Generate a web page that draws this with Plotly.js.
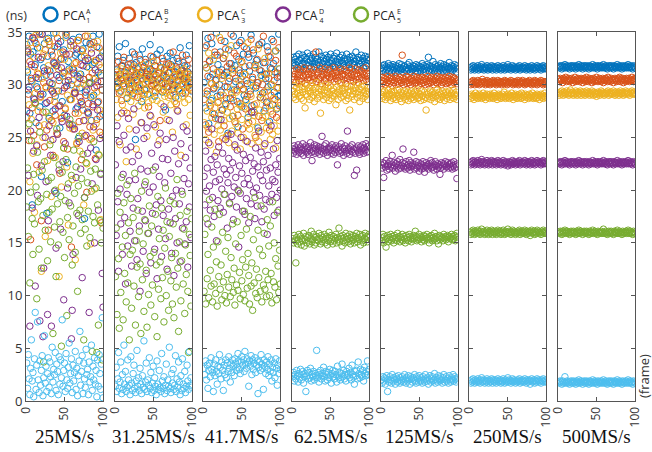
<!DOCTYPE html>
<html>
<head>
<meta charset="utf-8">
<script src="https://cdn.plot.ly/plotly-3.0.1.min.js"></script>
<style>html,body{margin:0;padding:0;background:#fff}#chart{width:652px;height:452px}</style>
</head>
<body>
<div id="chart"></div>
<script>
// ---------- categories / labels ----------
const panelLabels = ['25MS/s', '31.25MS/s', '41.7MS/s', '62.5MS/s', '125MS/s', '250MS/s', '500MS/s'];
const legendNames = ['A', 'B', 'C', 'D', 'E'];   // superscripts of PCA
const legendSubs  = ['1', '2', '3', '4', '5'];   // subscripts of PCA
const seriesColors = ['#0072BD', '#D95319', '#EDB120', '#7E2F8E', '#77AC30', '#4DBEEE'];
const xTicks = [0, 50, 100];
const yTicks = [0, 5, 10, 15, 20, 25, 30, 35];

// ---------- 25MS/s ----------
const blue25 = [33.8,31.2,29.5,34.6,27.3,32.9,30.4,18.6,33.1,28.7,34.2,31.9,26.4,29.8,33.5,30.6,35.0,27.9,32.4,21.3,34.8,29.1,31.6,33.9,28.2,30.9,17.8,32.7,34.4,26.8,31.3,29.6,33.2,30.1,27.5,34.9,32.0,28.9,19.7,31.8,33.6,29.4,30.7,25.9,34.1,32.5,28.4,31.1,33.3,27.1,30.3,34.7,29.9,22.6,32.2,31.5,28.6,33.7,30.0,26.2,34.3,31.4,29.2,32.8,27.7,33.0,30.8,24.9,34.5,29.7,31.0,32.6,28.1,33.4,30.5,17.3,29.3,34.0,31.7,27.4,32.3,30.2,33.9,28.8,26.6,31.9,34.6,29.0,32.1,30.6,23.8,33.6,28.3,31.2,34.8,27.0,30.9,32.7,29.5,33.1];
const orange25 = [26.9,33.4,29.1,24.7,32.2,15.3,30.6,27.8,34.5,25.2,31.7,28.3,33.9,22.4,29.6,31.0,26.1,34.8,28.9,17.1,32.6,27.4,30.2,24.1,33.3,29.8,25.7,31.4,16.2,34.1,28.5,30.9,26.6,32.8,23.3,29.2,33.6,27.1,31.8,25.4,34.4,28.0,30.4,21.6,32.4,26.8,29.4,33.1,24.6,31.2,27.7,34.9,29.9,23.9,30.8,26.3,32.9,28.6,14.6,31.5,25.8,33.7,29.3,27.3,32.1,24.4,30.1,34.2,26.5,28.8,31.9,22.9,33.2,27.6,30.5,25.1,34.6,29.0,19.8,32.5,28.2,30.7,26.0,33.8,24.9,31.1,27.9,34.0,29.7,23.0,32.3,26.7,30.3,28.4,33.5,25.5,31.6,16.9,29.5,27.2];
const yellow25 = [31.4,25.6,33.2,28.1,20.8,34.0,26.7,30.3,23.5,32.6,17.9,29.2,34.7,24.3,31.1,27.5,21.7,33.5,28.8,12.3,30.6,25.0,32.9,26.2,15.6,29.7,34.3,22.8,31.8,27.0,33.8,24.7,19.4,30.0,26.4,32.2,28.4,23.1,34.9,29.4,25.3,31.5,11.8,28.0,33.0,20.3,26.9,30.8,24.0,32.4,27.8,34.5,22.2,29.0,16.7,31.3,25.9,33.7,28.6,21.0,30.4,26.1,32.0,13.4,29.6,24.5,34.2,27.3,31.0,23.7,28.3,33.3,25.4,30.1,18.6,32.7,26.6,29.9,22.5,34.6,27.2,31.6,24.8,14.9,33.4,28.9,25.7,30.5,20.1,32.3,26.3,29.3,34.1,23.4,31.9,27.6,17.2,30.9,25.2,33.1];
const purple25 = [27.5,33.1,21.4,29.8,7.1,25.6,31.9,18.3,34.4,23.7,28.6,10.9,30.7,24.2,19.5,32.6,26.9,7.6,29.1,22.3,34.8,6.1,12.6,31.3,25.0,20.8,28.3,8.2,17.1,26.1,30.2,23.3,7.1,29.4,24.8,32.1,19.9,27.7,14.5,30.9,25.3,33.9,21.9,28.0,16.3,31.6,26.5,22.7,9.6,29.7,24.4,32.9,27.0,20.2,30.4,18.8,26.2,34.1,5.9,8.6,13.9,31.1,25.8,29.2,21.2,33.4,27.9,17.6,24.6,30.6,22.0,28.4,11.7,31.8,26.6,19.3,32.3,25.2,29.5,23.5,27.3,8.4,30.1,24.0,33.0,20.6,28.1,26.0,15.0,31.4,22.9,29.9,27.6,18.1,32.5,24.9,21.5,30.3,12.1,8.9];
const green25 = [18.4,22.1,15.6,26.3,11.2,19.8,24.7,17.3,13.9,21.5,16.8,28.2,20.3,9.7,23.6,18.9,14.4,25.5,19.2,12.6,21.9,17.6,3.7,22.7,16.2,27.4,19.6,13.3,20.9,17.9,24.3,15.1,21.2,18.2,6.4,23.1,16.5,20.0,11.8,25.8,18.7,14.8,22.4,17.0,19.4,5.2,21.7,16.0,24.0,13.6,19.0,22.9,8.1,17.4,20.6,15.3,26.7,18.5,21.4,12.9,16.6,23.8,19.7,14.1,22.2,17.8,10.4,20.4,25.1,18.1,15.9,21.1,17.2,23.4,5.8,19.3,16.3,22.6,14.7,20.7,18.0,30.2,15.5,21.8,19.9,4.7,17.5,24.6,16.9,22.0,20.2,4.6,18.6,7.2,23.3,17.1,21.6,15.0,3.9,16.4];
const cyan25 = [3.6,1.2,4.4,2.1,0.6,3.1,5.8,1.9,2.7,0.4,4.0,8.4,1.1,3.4,7.5,2.0,0.8,3.8,1.5,2.9,4.3,0.5,2.2,6.2,1.7,3.3,0.9,2.6,4.1,1.3,3.7,2.3,0.7,5.1,1.8,3.0,2.5,4.6,1.0,3.5,2.8,0.6,4.2,1.6,3.9,2.2,7.7,1.4,2.9,3.6,0.9,4.5,2.0,1.2,3.2,5.5,1.7,2.6,4.0,0.8,3.4,1.9,2.7,4.7,1.1,3.1,0.5,2.4,3.8,6.6,1.5,2.8,4.3,0.7,3.6,2.1,1.3,4.9,2.5,3.0,0.6,3.7,1.8,2.3,5.3,1.0,3.3,2.0,4.1,1.6,2.9,0.4,3.9,1.4,4.4,2.6,1.1,3.5,7.9,0.3];

// ---------- 31.25MS/s ----------
const blue31 = [30.6,31.4,29.8,32.7,30.2,33.6,31.0,29.4,31.8,30.5,32.3,29.9,31.2,33.9,30.8,28.7,31.6,30.1,32.5,29.6,31.3,30.4,33.1,29.2,31.9,30.7,24.8,32.1,30.3,31.5,29.7,32.8,30.9,31.1,28.4,33.4,30.0,31.7,29.5,32.4,30.6,31.3,29.1,32.0,30.8,33.8,31.4,29.9,30.5,32.6,31.0,28.9,31.8,30.2,32.9,29.7,31.2,30.4,33.3,31.6,30.1,29.3,32.2,30.9,31.5,27.6,30.7,32.7,29.8,31.1,30.3,33.0,31.9,29.5,30.6,32.3,31.3,30.0,28.8,31.7,32.5,30.4,29.6,31.0,33.5,30.8,31.4,29.2,32.1,30.5,31.8,30.2,32.8,29.9,31.2,30.6,33.7,31.5,30.1,29.4];
const orange31 = [30.9,29.7,31.5,30.3,32.2,29.2,31.0,30.6,28.5,31.8,30.1,32.6,29.9,30.8,31.3,27.3,30.4,31.9,29.5,30.7,32.0,30.2,29.0,31.4,30.9,32.9,29.8,31.1,30.5,28.8,31.7,30.0,32.4,29.4,31.2,30.6,31.6,29.1,30.8,32.1,29.6,31.0,30.3,27.9,31.5,30.7,32.7,29.9,30.4,31.3,30.0,31.8,29.3,30.9,32.3,30.5,29.7,31.1,26.6,31.6,30.2,32.5,30.8,29.5,31.4,30.1,31.9,29.8,30.6,32.0,31.2,29.0,30.4,31.7,30.0,33.1,29.6,31.0,30.7,28.2,31.5,30.3,32.2,29.4,30.9,31.3,30.1,32.8,29.9,30.6,31.1,29.2,30.5,31.8,30.2,32.4,29.7,31.0,30.8,29.5];
const yellow31 = [30.1,28.6,31.2,26.9,29.7,30.8,24.3,29.3,31.5,28.1,30.4,27.5,29.9,31.0,22.7,28.8,30.6,29.2,25.8,31.3,28.4,30.0,29.6,27.2,31.7,28.9,30.3,23.9,29.4,30.9,28.0,31.1,29.8,26.4,30.5,28.7,31.9,29.1,27.8,30.2,29.5,25.1,30.7,28.3,31.4,29.0,27.0,30.1,28.6,32.2,29.3,30.8,26.0,29.9,28.5,31.2,29.6,24.7,30.4,28.2,31.6,29.4,27.4,30.0,28.9,31.0,29.2,26.7,30.6,28.8,29.7,31.8,28.1,30.3,25.5,29.1,30.9,28.4,31.4,29.8,27.6,30.2,28.7,31.1,29.5,23.3,30.7,28.9,29.9,31.5,28.3,30.5,26.2,29.4,31.0,28.6,30.1,27.1,29.6,30.8];
const purple31 = [22.4,15.7,26.1,18.9,12.3,24.6,20.1,16.8,27.3,13.9,21.5,25.2,17.4,11.1,23.8,19.6,14.7,26.8,20.9,16.1,24.1,12.8,22.7,18.3,27.7,15.2,21.0,25.7,13.4,19.2,23.3,16.6,10.4,22.0,26.4,18.0,14.2,24.9,20.5,17.1,12.1,25.9,21.8,15.9,19.8,27.1,13.1,23.5,17.8,20.3,26.2,14.4,22.2,18.6,11.6,24.3,16.3,21.3,25.4,19.0,13.7,23.0,17.6,27.9,20.7,15.4,24.8,12.5,22.9,18.2,26.6,16.9,21.6,14.0,19.4,25.0,11.9,23.7,17.3,20.0,15.0,27.5,22.5,18.7,13.2,24.4,19.9,16.4,26.0,21.1,14.9,23.1,17.0,25.6,12.7,20.6,18.4,22.1,15.5,24.0];
const green31 = [11.8,16.4,8.2,19.7,13.5,6.9,17.9,10.3,21.2,14.6,7.7,18.8,12.1,15.7,9.4,20.5,11.2,16.9,5.8,13.9,19.2,8.8,14.3,17.4,10.9,21.6,7.2,15.2,12.7,18.1,9.9,16.1,13.0,6.4,19.9,11.5,14.9,8.5,17.2,20.8,12.4,7.0,15.9,10.1,18.5,13.7,9.1,16.6,11.0,21.9,14.1,8.0,17.7,12.9,6.1,19.4,10.6,15.4,13.2,9.7,18.3,11.7,16.2,7.5,14.5,20.2,10.0,17.0,12.3,8.6,15.6,19.0,11.4,13.6,9.2,16.8,7.9,18.7,14.0,10.8,21.0,12.6,6.6,15.1,17.6,9.5,13.3,19.6,11.1,16.3,8.3,14.8,12.0,18.0,10.4,4.6,15.8,13.8,9.0,17.3];
const cyan31 = [1.4,3.2,0.9,2.1,4.6,1.2,1.8,3.7,0.7,2.5,1.1,5.3,1.6,2.8,0.9,1.3,3.9,2.0,1.5,0.6,4.2,1.7,1.0,2.6,3.4,1.2,0.8,1.9,4.8,1.4,2.2,1.0,3.1,1.6,0.7,2.4,1.3,5.7,1.1,1.8,3.6,0.9,2.0,1.5,4.1,1.2,2.7,0.8,1.7,3.3,1.0,2.2,1.4,0.6,3.8,1.6,1.1,2.9,1.3,0.9,4.5,1.9,1.2,2.3,0.7,1.5,3.5,1.0,2.0,1.4,5.1,1.2,0.8,2.6,1.7,3.0,1.1,1.5,4.3,0.9,2.1,1.3,3.7,1.8,0.6,2.4,1.0,4.0,1.6,1.2,2.8,0.8,1.4,3.4,1.9,1.1,4.7,1.5,2.2,1.3];

// ---------- 41.7MS/s ----------
const blue41 = [30.2,33.5,27.8,31.6,29.1,34.4,26.3,32.2,30.7,28.5,33.9,31.0,29.6,27.2,32.8,30.4,34.9,28.9,31.9,26.7,30.0,33.1,29.3,31.4,27.6,32.5,30.9,34.1,28.2,31.2,29.8,25.4,33.3,30.6,28.7,32.0,31.5,27.0,34.6,29.5,31.8,30.3,33.7,28.4,26.0,32.4,29.9,31.1,34.2,27.9,30.8,32.9,29.0,31.7,28.6,33.4,30.1,26.9,32.6,31.3,29.4,34.7,28.0,30.5,33.0,27.4,31.9,29.7,32.3,30.2,25.9,33.8,31.4,28.8,30.9,34.0,29.2,32.1,27.5,31.0,30.6,28.3,33.6,29.8,32.7,26.5,31.6,30.0,34.3,28.1,32.0,29.3,31.2,33.2,27.7,30.7,28.9,34.8,31.5,29.0];
const orange41 = [28.6,31.9,26.2,33.7,29.4,30.8,25.5,32.3,28.0,34.5,30.1,27.3,31.5,29.7,33.1,26.8,30.5,32.8,28.3,24.6,31.2,29.0,34.2,27.6,30.9,32.5,26.1,29.8,33.4,28.7,31.7,25.2,30.3,32.0,27.9,34.8,29.2,31.1,28.5,33.0,26.5,30.6,32.7,29.5,27.1,31.4,34.0,28.2,30.0,32.2,25.8,29.6,33.6,31.0,27.7,30.4,28.9,32.9,26.4,31.8,29.1,34.3,27.4,30.7,33.3,28.1,31.6,25.0,29.9,32.4,30.2,27.0,33.8,28.8,31.3,26.6,30.0,34.6,29.3,32.1,27.8,31.0,28.4,33.2,30.6,25.7,32.6,29.0,31.5,27.2,34.1,30.4,28.6,32.3,26.9,31.1,29.7,33.5,28.0,30.8];
const yellow41 = [26.4,29.2,24.8,31.6,27.5,25.9,33.0,28.3,24.3,30.1,26.9,28.7,32.4,25.3,27.8,29.9,23.6,31.2,26.1,28.4,34.5,25.7,27.2,30.6,24.9,29.0,26.6,32.8,28.0,25.1,27.4,30.9,24.5,26.8,29.6,33.7,25.6,28.8,27.0,31.4,24.1,26.3,29.3,27.7,25.4,30.4,28.1,23.9,32.1,26.7,29.5,25.0,27.9,31.0,24.7,28.5,26.2,34.0,27.3,25.8,30.2,28.9,24.4,26.5,29.8,27.1,25.2,31.8,28.2,26.0,33.4,24.6,27.6,29.1,25.5,30.7,26.9,28.6,24.2,32.5,27.0,25.9,29.4,26.4,31.1,28.0,24.8,27.5,30.0,25.3,28.7,26.1,33.2,24.0,29.7,27.8,25.6,31.5,26.6,28.3];
const purple41 = [21.3,18.6,23.7,19.9,22.1,16.8,24.5,20.4,18.1,22.9,25.8,19.3,21.7,17.5,23.2,20.8,15.2,22.4,19.0,24.1,21.0,18.3,26.7,20.1,23.5,17.9,22.0,19.6,24.8,21.5,16.4,20.7,23.0,18.8,21.9,25.3,19.4,22.6,17.2,20.3,24.3,21.2,18.4,23.8,20.0,14.6,22.3,19.7,25.0,21.6,18.0,23.4,20.6,17.7,22.8,19.2,24.6,21.1,16.9,20.5,23.1,18.7,27.4,21.8,19.8,22.5,17.3,24.0,20.2,18.5,22.2,25.6,19.5,21.4,23.6,17.0,20.9,22.7,18.2,24.4,19.1,21.9,15.8,23.3,20.4,18.9,22.1,26.1,19.6,21.0,23.9,17.6,20.8,22.4,19.3,24.7,21.7,18.1,23.0,20.0];
const green41 = [10.4,15.8,9.2,17.3,11.6,13.9,9.8,19.1,12.4,10.9,16.5,9.4,14.6,11.1,18.2,10.2,13.2,9.0,15.1,11.8,17.7,10.6,12.9,9.6,16.0,11.3,19.6,10.0,14.2,9.3,12.0,15.5,10.8,18.7,9.9,13.6,11.5,16.8,10.3,12.6,9.1,14.9,11.0,17.0,10.5,19.9,12.2,9.7,15.7,11.4,13.4,10.1,18.0,9.5,12.7,16.3,10.7,14.0,11.9,9.2,17.5,10.9,13.1,8.6,15.3,11.2,19.3,10.2,12.5,9.8,16.2,11.7,14.4,10.4,18.5,9.4,13.8,11.0,15.9,10.6,12.3,9.9,17.2,11.5,14.7,10.0,16.6,12.1,9.3,18.9,11.3,15.0,10.8,13.5,9.6,17.9,12.8,10.3,14.3,11.1];
const cyan41 = [3.1,2.5,3.8,2.0,3.4,1.2,2.9,3.6,2.3,4.1,3.0,2.7,0.9,3.5,2.4,3.9,2.8,1.6,3.3,2.6,4.4,3.2,2.1,3.7,2.9,1.0,3.4,2.5,3.9,2.2,3.6,2.8,4.2,3.1,1.8,3.5,2.7,3.9,3.3,2.4,4.0,3.6,2.9,3.2,4.5,3.8,3.0,2.6,3.7,4.2,3.4,3.9,2.8,4.7,3.5,3.1,4.0,3.6,1.4,3.8,3.3,4.3,2.5,3.9,3.0,3.6,4.1,2.7,3.4,3.8,0.7,3.2,3.7,2.9,4.4,3.5,3.1,1.1,3.9,3.3,2.6,3.7,3.0,4.2,2.4,3.5,2.8,3.9,1.9,3.2,2.7,3.6,2.2,4.0,3.1,1.5,3.4,2.6,3.8,3.0];

// ---------- 62.5MS/s ----------
const blue62 = [32.1,32.6,31.8,32.4,31.9,32.7,32.2,31.6,32.9,32.3,31.7,32.5,32.0,32.8,31.5,32.2,32.6,31.9,32.4,33.0,32.1,31.8,32.7,32.3,31.6,32.5,32.0,32.9,31.7,32.2,32.6,31.9,32.4,32.1,33.1,31.8,32.3,32.7,31.5,32.0,32.5,32.2,31.7,32.8,32.4,31.9,32.6,32.1,31.6,32.9,32.3,32.0,31.8,32.5,32.7,31.7,32.2,33.0,32.4,31.9,32.1,32.6,31.6,32.3,32.8,32.0,31.8,32.5,32.2,31.7,32.9,32.4,32.1,31.9,32.6,32.3,31.5,32.7,32.0,32.5,31.8,32.2,33.1,32.4,31.7,32.6,32.0,32.3,31.9,32.8,32.1,32.5,31.6,32.2,32.7,31.8,32.4,32.0,32.6,32.3];
const orange62 = [30.8,31.3,30.5,31.0,30.2,31.5,30.7,31.1,30.4,30.9,31.4,30.6,30.3,31.2,30.8,31.6,30.1,30.9,31.3,30.5,31.0,30.7,31.5,30.4,31.1,30.2,30.8,31.4,30.6,31.0,33.1,30.3,30.9,31.2,30.5,31.6,30.7,30.1,31.3,30.8,31.0,30.4,31.5,30.6,31.1,30.9,30.2,31.4,30.7,31.2,30.5,31.0,30.8,31.6,30.3,31.1,30.6,31.3,30.9,30.4,31.2,30.7,31.5,30.2,30.8,31.0,30.5,31.4,30.9,30.1,31.3,30.6,31.1,30.8,31.6,30.4,31.0,30.7,31.2,30.3,30.9,31.5,30.5,31.1,30.8,30.2,31.4,30.6,31.0,31.3,30.7,31.2,30.4,30.9,31.6,30.5,31.1,30.8,30.3,31.0];
const yellow62 = [29.4,28.8,29.9,29.1,28.6,29.7,29.2,30.1,28.9,29.5,29.0,28.7,29.8,29.3,28.5,29.6,27.8,29.1,30.0,28.9,29.4,29.7,28.6,29.2,29.9,28.8,29.5,29.0,28.4,29.7,29.3,30.2,28.7,29.1,29.6,28.9,27.3,29.4,29.8,29.0,28.6,29.5,29.2,30.0,28.8,29.3,29.7,28.5,29.1,29.9,28.7,29.4,29.0,29.6,28.9,29.2,28.1,29.8,29.3,28.6,29.5,29.1,30.1,28.8,29.4,29.7,28.9,29.2,29.6,28.5,29.0,29.8,28.7,29.3,27.6,29.5,29.9,28.9,29.1,29.4,28.6,29.7,29.2,30.0,28.8,29.3,29.6,28.4,29.0,29.8,29.5,28.7,29.2,29.9,28.9,29.4,29.1,28.6,29.7,29.3];
const purple62 = [23.9,23.5,24.2,23.7,24.0,23.4,23.8,24.3,23.6,23.9,24.1,23.5,23.8,24.4,23.3,24.0,23.7,24.2,23.6,23.9,23.4,24.1,23.8,24.5,23.6,22.8,24.0,23.7,24.3,23.5,23.9,24.2,23.6,23.8,24.1,23.4,24.0,23.7,25.1,23.9,23.5,24.2,23.8,24.4,23.6,23.3,24.0,23.7,24.1,23.9,23.5,24.3,23.8,23.4,24.0,23.6,24.2,23.9,22.4,23.7,24.1,23.5,23.8,24.4,23.6,24.0,23.3,23.9,24.2,23.7,23.5,25.6,24.0,23.8,23.4,24.1,23.7,24.3,23.6,23.9,21.4,23.5,24.0,21.9,23.8,24.2,23.6,23.4,24.1,23.7,23.9,24.3,23.5,24.0,23.8,24.4,23.6,24.1,23.7,24.2];
const green62 = [15.4,15.0,15.7,15.2,13.1,15.5,14.9,15.3,15.8,15.1,15.6,14.8,15.4,15.2,15.9,14.7,15.3,15.6,15.0,15.5,15.2,15.7,14.9,15.4,16.1,15.1,15.3,15.8,14.8,15.5,15.0,15.6,15.3,15.2,15.9,15.4,14.9,15.7,15.1,15.5,15.3,15.8,15.0,15.4,15.6,14.8,15.2,16.0,15.5,15.1,15.7,15.3,14.9,15.6,15.2,15.4,15.8,15.0,15.5,15.3,16.4,15.1,15.6,15.4,14.7,15.7,15.2,15.5,15.0,15.9,15.3,15.6,15.1,15.4,15.8,14.9,15.5,15.2,15.7,15.3,15.0,15.6,15.4,15.9,15.1,15.5,15.3,15.8,14.8,15.6,15.2,15.7,15.0,15.4,15.9,15.3,15.6,15.1,15.5,15.8];
const cyan62 = [2.3,2.7,1.9,2.5,2.1,2.9,2.4,1.8,2.6,2.2,3.0,2.0,2.5,2.8,1.7,2.3,2.6,0.9,2.4,2.9,2.1,2.7,2.2,3.1,1.9,2.5,2.3,2.8,2.0,2.6,2.4,4.8,2.2,2.7,1.8,2.5,2.9,2.1,2.4,2.6,3.2,2.3,1.9,2.8,2.5,2.0,2.7,2.2,3.0,2.4,1.7,2.6,2.9,2.3,2.1,2.8,2.5,1.8,3.3,2.4,2.2,2.7,2.0,2.6,3.5,2.3,2.9,2.1,2.5,1.9,2.8,2.4,2.6,3.1,2.2,2.7,2.0,3.4,2.5,2.3,1.6,2.8,2.4,2.9,2.1,3.7,2.6,2.2,3.0,2.5,2.3,2.9,1.9,3.2,2.6,2.4,2.8,3.8,2.5,3.0];

// ---------- 125MS/s ----------
const blue125 = [31.6,31.3,31.8,31.5,31.9,31.2,31.7,31.4,31.6,32.0,31.3,31.8,31.5,31.1,31.7,31.9,31.4,31.6,31.2,31.8,31.5,31.7,31.3,32.0,31.6,31.4,31.9,31.5,31.2,31.7,31.8,31.4,31.6,31.3,31.9,31.5,32.1,31.7,31.2,31.6,31.4,31.8,31.5,31.7,31.3,31.9,31.6,31.2,31.8,31.5,31.7,31.3,31.6,32.0,31.4,31.8,31.5,31.2,31.7,31.9,31.6,32.6,31.3,31.8,31.5,31.7,31.4,32.2,31.6,31.3,31.9,31.5,31.7,31.2,31.8,31.4,31.6,32.0,31.5,31.7,31.3,31.9,31.6,31.4,31.8,31.2,31.7,31.5,32.1,31.6,31.4,31.8,31.3,31.7,31.5,31.9,31.6,31.2,31.8,31.5];
const orange125 = [30.4,30.1,30.7,30.3,30.6,30.0,30.5,30.2,30.8,30.4,30.1,30.6,30.3,30.7,29.9,30.5,30.2,30.4,30.8,30.0,30.6,30.3,30.5,30.1,30.7,30.4,30.2,32.8,30.6,30.0,30.5,30.3,30.8,30.1,30.4,30.7,30.2,30.5,30.0,30.6,30.3,30.4,30.8,30.1,30.5,30.2,30.7,30.4,29.9,30.6,30.3,30.5,30.1,30.7,30.4,30.2,30.6,30.0,30.5,30.3,30.8,30.1,30.4,30.6,30.2,30.7,30.3,30.5,30.0,30.4,30.6,30.2,30.8,30.1,30.5,30.3,30.7,30.4,30.0,30.6,30.2,30.5,30.3,30.7,30.1,30.4,30.6,30.2,30.8,30.3,30.5,30.0,30.4,30.7,30.2,30.6,30.3,30.5,30.1,30.4];
const yellow125 = [29.1,28.7,29.3,28.9,29.4,28.6,29.0,29.2,28.8,29.5,28.9,29.1,28.5,29.3,29.0,28.7,29.4,28.8,29.2,28.6,29.0,29.5,28.9,29.1,28.7,29.3,28.4,29.0,29.2,28.8,29.4,28.6,29.1,28.9,29.3,28.5,29.0,29.2,28.7,29.4,28.8,29.1,28.6,29.3,28.9,29.0,29.5,28.7,29.2,28.8,29.1,28.5,29.4,28.9,29.0,28.6,29.3,28.8,27.6,29.1,28.7,29.2,28.9,29.4,28.6,29.0,29.3,28.8,29.1,28.4,29.2,28.9,29.5,28.7,29.0,29.3,28.6,29.1,28.8,29.4,28.9,29.2,28.5,29.0,29.3,28.7,29.1,28.9,29.4,28.6,29.0,29.2,28.8,29.5,28.7,29.1,28.9,29.3,28.6,29.0];
const purple125 = [22.4,22.1,22.6,21.2,22.5,22.2,22.8,21.9,22.3,22.5,22.0,22.7,22.2,22.4,23.3,22.1,22.6,22.3,21.8,22.5,22.2,22.7,22.0,22.4,22.9,22.1,22.3,22.6,23.9,22.2,22.5,22.0,22.7,22.3,22.1,22.4,22.8,21.9,22.6,22.2,22.3,22.5,23.6,22.0,22.4,22.7,22.1,22.3,22.6,21.8,22.2,22.5,22.0,22.4,22.7,22.1,21.7,22.3,22.6,22.2,22.4,22.0,22.5,22.3,22.8,22.1,22.6,22.2,21.9,22.4,22.7,22.3,22.0,22.5,22.2,22.4,21.5,22.1,22.6,22.3,22.5,22.0,22.4,22.7,22.2,22.3,22.6,22.1,22.4,22.5,22.2,22.6,22.0,22.3,22.7,22.1,22.4,22.2,21.1,22.5];
const green125 = [15.5,15.2,15.8,15.0,15.6,15.3,14.6,15.4,15.7,15.1,15.5,15.3,15.8,15.2,15.6,15.4,15.0,15.7,15.3,15.5,15.2,15.9,15.4,15.6,15.1,15.5,15.3,15.8,15.2,15.6,15.4,15.0,15.7,15.3,15.5,15.2,15.8,15.6,15.4,15.1,15.5,15.3,15.7,15.4,16.1,15.6,15.2,15.5,15.3,15.8,15.4,15.6,15.1,15.5,15.3,15.7,15.2,15.6,15.4,15.8,15.5,15.3,15.0,15.6,15.4,15.7,15.2,15.5,15.3,15.9,15.4,15.6,15.2,15.5,14.9,15.7,15.3,15.6,15.4,15.5,15.2,15.8,15.4,15.6,15.3,15.5,15.7,15.1,15.6,15.4,15.5,15.8,15.3,15.6,15.4,15.7,15.2,15.5,15.9,15.6];
const cyan125 = [2.0,1.7,2.3,1.9,2.2,1.6,2.1,2.4,0.9,2.0,1.8,2.3,2.0,1.7,2.5,1.9,2.2,2.0,1.6,2.3,2.1,1.8,2.4,2.0,1.7,2.2,1.9,2.3,2.0,1.8,2.5,2.1,1.7,2.2,1.9,2.4,2.0,1.6,2.3,2.1,1.8,2.2,2.0,2.5,1.9,1.7,2.3,2.1,1.8,2.4,2.0,1.9,2.2,1.7,2.3,2.0,1.8,2.5,2.1,1.9,2.2,1.6,2.0,2.4,1.8,2.1,2.3,1.9,2.0,2.6,1.7,2.2,2.0,1.8,2.4,2.1,1.9,2.3,2.0,1.7,2.2,2.5,1.8,2.0,2.3,1.9,2.1,1.7,2.4,2.0,1.8,2.2,2.0,2.5,1.9,2.3,2.1,1.8,2.2,2.0];

// ---------- 250MS/s ----------
const blue250 = [31.6,31.4,31.7,31.5,31.8,31.6,31.4,31.7,31.5,31.6,31.8,31.4,31.6,31.5,31.7,31.9,31.5,31.6,31.4,31.7,31.6,31.5,31.8,31.4,31.6,31.7,31.5,31.6,31.8,31.4,31.7,31.6,31.5,31.7,31.4,31.6,31.8,31.5,31.6,31.7,31.4,31.6,31.5,31.8,31.6,31.4,31.7,31.5,31.6,31.9,31.5,31.7,31.6,31.4,31.6,31.8,31.5,31.7,31.6,31.4,31.6,31.5,31.7,31.6,31.8,31.4,31.6,31.5,31.7,31.6,31.5,31.8,31.6,31.4,31.7,31.5,31.6,31.7,31.4,31.6,31.8,31.5,31.6,31.7,31.4,31.6,31.5,31.8,31.6,31.7,31.5,31.6,31.4,31.7,31.6,31.8,31.5,31.6,31.7,31.5];
const orange250 = [30.2,30.0,30.3,30.1,30.4,30.2,30.0,30.3,30.2,30.1,30.4,30.2,30.0,30.3,30.1,30.2,30.5,30.1,30.3,30.2,30.0,30.2,30.4,30.1,30.3,30.2,30.0,30.2,30.3,30.1,30.4,30.2,30.1,30.3,30.0,30.2,30.4,30.2,30.1,30.3,30.2,30.0,30.3,30.2,30.1,30.4,30.2,30.3,30.0,30.2,30.1,30.3,30.2,30.4,30.1,30.2,30.0,30.3,30.2,30.1,30.3,30.2,30.4,30.0,30.2,30.1,30.3,30.2,30.4,30.1,30.2,30.0,30.3,30.2,30.1,30.3,30.2,30.4,30.1,30.2,30.0,30.3,30.2,30.1,30.4,30.2,30.3,30.0,30.2,30.1,30.3,30.2,30.4,30.1,30.2,30.0,30.3,30.2,30.1,30.3];
const yellow250 = [28.9,28.7,29.1,28.8,29.0,28.6,28.9,29.2,28.8,29.0,28.7,28.9,29.1,28.8,29.0,28.7,28.9,29.2,28.8,29.0,28.6,28.9,29.1,28.8,29.0,28.7,29.1,28.9,28.8,29.0,28.7,29.2,28.9,28.8,29.0,28.6,28.9,29.1,28.8,29.0,28.7,28.9,29.1,28.8,29.3,28.9,28.7,29.0,28.8,29.1,28.9,28.7,29.0,28.8,29.2,28.9,28.6,29.0,28.8,29.1,28.9,28.7,29.0,28.8,29.1,28.9,28.7,29.2,28.8,29.0,28.9,28.6,29.1,28.8,29.0,28.9,28.7,29.1,28.8,29.0,28.9,29.2,28.7,28.8,29.0,28.9,28.7,29.1,28.8,29.0,28.6,28.9,29.1,28.8,29.0,28.7,28.9,29.2,28.8,29.0];
const purple250 = [22.6,22.4,22.7,22.5,22.8,22.6,22.4,22.7,22.5,22.6,22.8,22.5,22.6,22.4,22.7,22.9,22.5,22.6,22.7,22.4,22.6,22.5,22.8,22.6,22.4,22.7,22.5,22.6,22.8,22.4,22.7,22.6,22.5,22.7,22.4,22.6,22.8,22.5,22.6,22.7,22.4,22.6,22.5,22.8,22.6,22.4,22.7,22.5,22.6,22.3,22.5,22.7,22.6,22.4,22.6,22.8,22.5,22.7,22.6,22.4,22.6,22.5,22.7,22.6,22.8,22.4,22.6,22.5,22.7,22.6,22.5,22.8,22.6,22.4,22.7,22.5,22.6,22.7,22.4,22.6,22.8,22.5,22.6,22.7,22.4,22.6,22.5,22.8,22.6,22.7,22.5,22.6,22.4,22.7,22.6,22.8,22.5,22.6,22.7,22.5];
const green250 = [16.0,15.8,16.1,15.9,16.2,16.0,15.8,16.1,15.9,16.0,16.2,15.9,16.0,15.8,16.1,16.3,15.9,16.0,16.1,15.8,16.0,15.9,16.2,16.0,15.8,16.1,15.9,16.0,16.2,15.8,16.1,16.0,15.9,16.1,15.8,16.0,16.2,15.9,16.0,16.1,15.8,16.0,15.9,16.2,16.0,15.8,16.1,15.9,16.0,16.3,15.9,16.1,16.0,15.8,16.0,16.2,15.9,16.1,16.0,15.8,16.0,15.9,16.1,16.0,16.2,15.8,16.0,15.9,16.1,16.0,15.9,16.2,16.0,15.8,16.1,15.9,16.0,16.1,15.7,16.0,16.2,15.9,16.0,16.1,15.8,16.0,15.9,16.2,16.0,16.1,15.9,16.0,15.8,16.1,16.0,16.2,15.9,16.0,16.1,15.9];
const cyan250 = [1.9,1.7,2.0,1.8,2.1,1.9,1.7,2.0,1.8,1.9,2.1,1.8,1.9,1.7,2.0,2.2,1.8,1.9,2.0,1.7,1.9,1.8,2.1,1.9,1.7,2.0,1.8,1.9,2.1,1.7,2.0,1.9,1.8,2.0,1.7,1.9,2.1,1.8,1.9,2.0,1.7,1.9,1.8,2.1,1.9,1.7,2.0,1.8,1.9,2.2,1.8,2.0,1.9,1.7,1.9,2.1,1.8,2.0,1.9,1.7,1.9,1.8,2.0,1.9,2.1,1.7,1.9,1.8,2.0,1.9,1.8,2.1,1.9,1.7,2.0,1.8,1.9,2.0,1.6,1.9,2.1,1.8,1.9,2.0,1.7,1.9,1.8,2.1,1.9,2.0,1.8,1.9,1.7,2.0,1.9,2.1,1.8,1.9,2.0,1.8];

// ---------- 500MS/s ----------
const blue500 = [31.7,31.6,31.8,31.7,31.5,31.8,31.6,31.7,31.9,31.6,31.7,31.8,31.6,31.7,31.5,31.7,31.8,31.6,31.7,31.8,31.6,31.7,31.5,31.8,31.7,31.6,31.9,31.7,31.6,31.8,31.7,31.5,31.7,31.8,31.6,31.7,31.8,31.6,31.7,31.5,31.8,31.7,31.6,31.7,31.9,31.6,31.7,31.8,31.6,31.7,31.5,31.8,31.7,31.6,31.7,31.8,31.6,31.7,31.9,31.6,31.7,31.8,31.6,31.5,31.7,31.8,31.6,31.7,31.8,31.6,31.7,31.5,31.8,31.7,31.6,31.7,31.9,31.6,31.7,31.8,31.6,31.7,31.5,31.8,31.7,31.6,31.7,31.8,31.6,31.7,31.9,31.6,31.7,31.8,31.6,31.7,31.5,31.8,31.7,31.6];
const orange500 = [30.5,30.3,30.6,30.4,30.5,30.2,30.6,30.4,30.5,30.7,30.3,30.5,30.4,30.6,30.3,30.5,30.4,30.6,30.2,30.5,30.4,30.7,30.3,30.5,30.4,30.6,30.5,30.3,30.4,30.6,30.5,30.2,30.4,30.6,30.5,30.3,30.7,30.4,30.5,30.3,30.6,30.4,30.5,30.2,30.4,30.6,30.3,30.5,30.4,30.7,30.5,30.3,30.4,30.6,30.5,30.3,30.4,30.6,30.2,30.5,30.4,30.6,30.5,30.3,30.7,30.4,30.5,30.3,30.6,30.4,30.5,30.2,30.4,30.6,30.5,30.3,30.4,30.6,30.5,30.7,30.3,30.5,30.4,30.6,30.2,30.5,30.4,30.3,30.6,30.5,30.4,30.6,30.3,30.5,30.4,30.7,30.5,30.3,30.4,30.6];
const yellow500 = [29.2,29.0,29.3,29.1,29.4,29.2,29.0,29.3,29.1,29.2,29.4,29.1,29.2,29.0,29.3,29.5,29.1,29.2,29.3,29.0,29.2,29.1,29.4,29.2,29.0,29.3,29.1,29.2,29.4,29.0,29.3,29.2,29.1,29.3,29.0,29.2,29.4,29.1,29.2,29.3,29.0,29.2,29.1,29.4,29.2,29.0,29.3,29.1,29.2,28.9,29.1,29.3,29.2,29.0,29.2,29.4,29.1,29.3,29.2,29.0,29.2,29.1,29.3,29.2,29.4,29.0,29.2,29.1,29.3,29.2,29.1,29.4,29.2,29.0,29.3,29.1,29.2,29.3,29.0,29.2,29.4,29.1,29.2,29.3,29.0,29.2,29.1,29.4,29.2,29.3,29.1,29.2,29.0,29.3,29.2,29.4,29.1,29.2,29.3,29.1];
const purple500 = [22.6,22.5,22.7,22.6,22.4,22.7,22.5,22.6,22.8,22.5,22.6,22.7,22.5,22.6,22.4,22.6,22.7,22.5,22.6,22.7,22.5,22.6,22.4,22.7,22.6,22.5,22.8,22.6,22.5,22.7,22.6,22.4,22.6,22.7,22.5,22.6,22.7,22.5,22.6,22.4,22.7,22.6,22.5,22.6,22.8,22.5,22.6,22.7,22.5,22.6,22.4,22.7,22.6,22.5,22.6,22.7,22.5,22.6,22.8,22.5,22.6,22.7,22.5,22.4,22.6,22.7,22.5,22.6,22.7,22.5,22.6,22.4,22.7,22.6,22.5,22.6,22.8,22.5,22.6,22.7,22.5,22.6,22.4,22.7,22.6,22.5,22.6,22.7,22.5,22.6,22.8,22.5,22.6,22.7,22.5,22.6,22.4,22.7,22.6,22.5];
const green500 = [16.0,15.9,16.1,16.0,15.8,16.1,15.9,16.0,16.2,15.9,16.0,16.1,15.9,16.0,15.8,16.0,16.1,15.9,16.0,16.1,15.9,16.0,15.8,16.1,16.0,15.9,16.2,16.0,15.9,16.1,16.0,15.8,16.0,16.1,15.9,16.0,16.1,15.9,16.0,15.8,16.1,16.0,15.9,16.0,16.2,15.9,16.0,16.1,15.9,16.0,15.8,16.1,16.0,15.9,16.0,16.1,15.9,16.0,16.3,15.9,16.0,16.1,15.9,15.8,16.0,16.1,15.9,16.0,16.1,15.9,16.0,15.8,16.1,16.0,15.9,16.0,16.2,15.9,16.0,16.1,15.9,16.0,15.8,16.1,16.0,15.9,16.0,16.1,15.9,16.0,16.2,15.9,16.0,16.1,15.9,16.0,15.8,16.1,16.0,15.9];
const cyan500 = [1.8,1.7,1.9,1.8,1.6,1.9,1.7,1.8,2.3,1.7,1.8,1.9,1.7,1.8,1.6,1.8,1.9,1.7,1.8,1.9,1.7,1.8,1.6,1.9,1.8,1.7,2.0,1.8,1.7,1.9,1.8,1.6,1.8,1.9,1.7,1.8,1.9,1.7,1.8,1.6,1.9,1.8,1.7,1.8,2.0,1.7,1.8,1.9,1.7,1.8,1.6,1.9,1.8,1.7,1.8,1.9,1.7,1.8,2.0,1.7,1.8,1.9,1.7,1.6,1.8,1.9,1.7,1.8,1.9,1.7,1.8,1.6,1.9,1.8,1.7,1.8,2.0,1.7,1.8,1.9,1.7,1.8,1.6,1.9,1.8,1.7,1.8,1.9,1.7,1.8,2.0,1.7,1.8,1.9,1.7,1.8,1.6,1.9,1.8,1.7];

const panelData = [
  [blue25, orange25, yellow25, purple25, green25, cyan25],
  [blue31, orange31, yellow31, purple31, green31, cyan31],
  [blue41, orange41, yellow41, purple41, green41, cyan41],
  [blue62, orange62, yellow62, purple62, green62, cyan62],
  [blue125, orange125, yellow125, purple125, green125, cyan125],
  [blue250, orange250, yellow250, purple250, green250, cyan250],
  [blue500, orange500, yellow500, purple500, green500, cyan500]
];

// ---------- build figure ----------
const W = 652, H = 452;
const M = {l: 26, r: 17, t: 32, b: 51};
const plotW = W - M.l - M.r, plotH = H - M.t - M.b;
const panelW = 77 / plotW;
const panelStep = 88.667 / plotW;
const px2x = p => (p - M.l) / plotW;
const py2y = p => (H - M.b - p) / plotH;

const traces = [];
const layout = {
  width: W, height: H,
  margin: M,
  paper_bgcolor: '#ffffff', plot_bgcolor: '#ffffff',
  showlegend: false,
  hovermode: false,
  font: {family: 'Open Sans, sans-serif', color: '#262626'},
  annotations: [], shapes: []
};

panelData.forEach((series, i) => {
  const sfx = i === 0 ? '' : String(i + 1);
  const frames = series[0].map((_, k) => k + 1);
  series.forEach((vals, j) => {
    traces.push({
      type: 'scatter', mode: 'markers',
      x: frames, y: vals,
      xaxis: 'x' + sfx, yaxis: 'y' + sfx,
      marker: {symbol: 'circle-open', size: 6.5, color: seriesColors[j], line: {width: 1, color: seriesColors[j]}},
      hoverinfo: 'skip'
    });
  });
  const d0 = i * panelStep;
  layout['xaxis' + sfx] = {
    domain: [d0, d0 + panelW], range: [0, 100], anchor: 'y' + sfx,
    tickvals: xTicks, ticktext: xTicks.map(String), tickangle: -90,
    ticks: 'inside', ticklen: 4, tickcolor: '#555', mirror: 'ticks',
    showline: true, linecolor: '#555', linewidth: 1,
    showgrid: false, zeroline: false,
    tickfont: {size: 12, color: '#333', family: 'Open Sans, sans-serif'}
  };
  layout['yaxis' + sfx] = {
    domain: [0, 1], range: [0, 35], anchor: 'x' + sfx,
    tickvals: yTicks, ticks: 'inside', ticklen: 4, tickcolor: '#555', mirror: 'ticks',
    showline: true, linecolor: '#555', linewidth: 1,
    showgrid: false, zeroline: false, showticklabels: i === 0,
    tickfont: {size: 13, color: '#333', family: 'Open Sans, sans-serif'}
  };
  layout.annotations.push({
    xref: 'paper', yref: 'paper', x: d0 + panelW / 2, y: py2y(436),
    xanchor: 'center', yanchor: 'middle', showarrow: false,
    text: panelLabels[i],
    font: {family: 'Liberation Serif, Times New Roman, serif', size: 19, color: '#111'}
  });
});

// axis unit labels
layout.annotations.push({
  xref: 'paper', yref: 'paper', x: px2x(16), y: py2y(16), xanchor: 'center', yanchor: 'middle',
  showarrow: false, text: '(ns)', font: {size: 12.5, color: '#333'}, borderpad: 0
});
layout.annotations.push({
  xref: 'paper', yref: 'paper', x: px2x(644), y: py2y(376), xanchor: 'center', yanchor: 'middle',
  showarrow: false, text: '(frame)', textangle: -90, font: {size: 13, color: '#333'}
});

// legend (circle + PCA with stacked superscript / subscript)
const legendX = [50.5, 128, 205, 283, 361];
const legendY = 14.5;
legendNames.forEach((nm, j) => {
  const cx = legendX[j];
  layout.shapes.push({
    type: 'circle', xref: 'paper', yref: 'paper',
    xsizemode: 'pixel', ysizemode: 'pixel',
    xanchor: px2x(cx), yanchor: py2y(legendY),
    x0: -7, x1: 7, y0: -7, y1: 7,
    line: {color: seriesColors[j], width: 2.5}
  });
  layout.annotations.push({
    xref: 'paper', yref: 'paper', x: px2x(cx + 11), y: py2y(legendY + 0.5),
    xanchor: 'left', yanchor: 'middle', showarrow: false, borderpad: 0,
    text: 'PCA', font: {size: 12, color: '#222'}
  });
  layout.annotations.push({
    xref: 'paper', yref: 'paper', x: px2x(cx + 34.5), y: py2y(15.5),
    xanchor: 'left', yanchor: 'middle', showarrow: false, borderpad: 0,
    text: nm + '<br>' + legendSubs[j], font: {size: 7, color: '#222'}
  });
});

Plotly.newPlot('chart', traces, layout, {staticPlot: true, displayModeBar: false});
</script>
</body>
</html>
